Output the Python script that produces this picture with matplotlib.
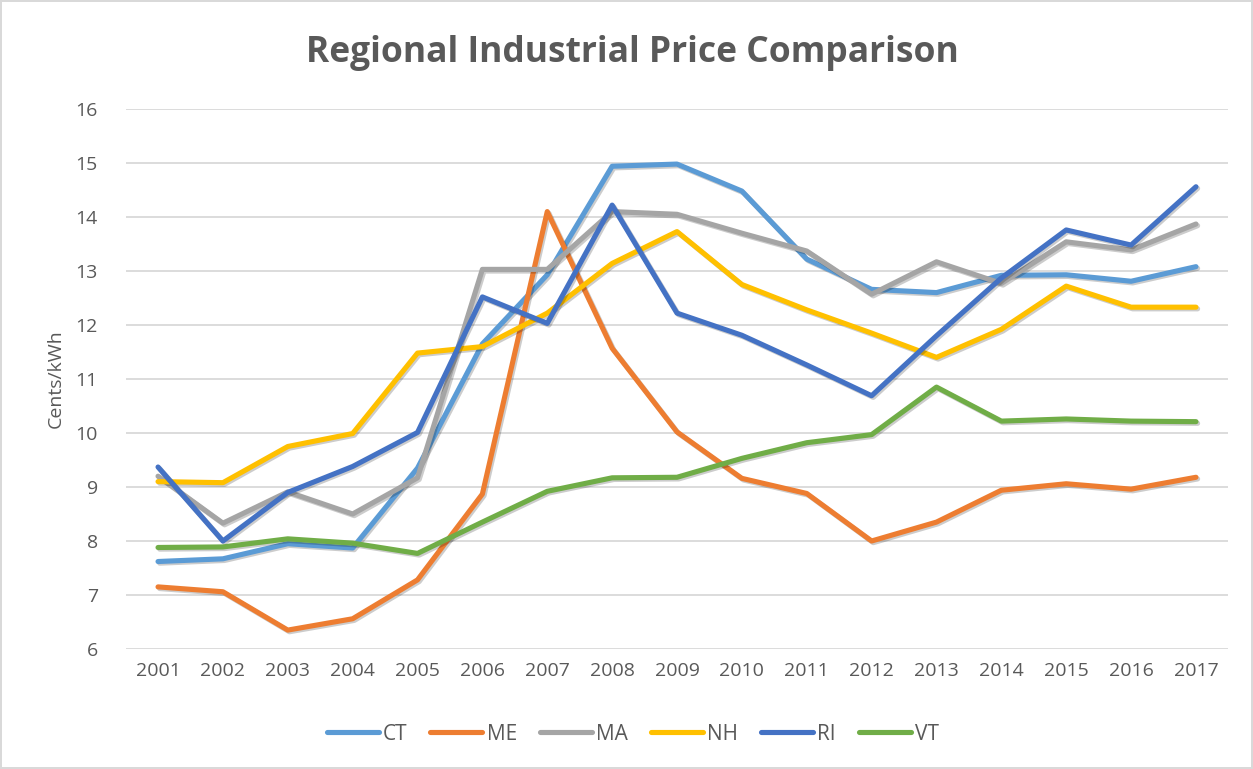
import matplotlib
matplotlib.use("Agg")
import matplotlib.pyplot as plt
import matplotlib.patheffects as pe

# Industrial electricity prices (cents/kWh) by New England state
years = list(range(2001, 2018))
ct = [7.62, 7.67, 7.95, 7.87, 9.35, 11.65, 12.93, 14.94, 14.98, 14.48, 13.22, 12.66, 12.6, 12.92, 12.93, 12.81, 13.08]
me = [7.15, 7.06, 6.35, 6.56, 7.28, 8.87, 14.1, 11.57, 10.02, 9.16, 8.88, 8.0, 8.35, 8.94, 9.06, 8.96, 9.18]
ma = [9.2, 8.33, 8.91, 8.5, 9.17, 13.03, 13.03, 14.1, 14.05, 13.7, 13.37, 12.57, 13.17, 12.77, 13.54, 13.39, 13.87]
nh = [9.1, 9.08, 9.75, 9.99, 11.48, 11.6, 12.22, 13.14, 13.73, 12.75, 12.28, 11.85, 11.4, 11.92, 12.72, 12.33, 12.33]
ri = [9.37, 8.0, 8.9, 9.38, 10.01, 12.52, 12.03, 14.22, 12.22, 11.81, 11.26, 10.69, 11.8, 12.87, 13.76, 13.48, 14.56]
vt = [7.88, 7.89, 8.04, 7.96, 7.77, 8.35, 8.92, 9.17, 9.18, 9.53, 9.82, 9.97, 10.85, 10.22, 10.26, 10.22, 10.21]

series = [("CT", ct, "#5B9BD5"), ("ME", me, "#ED7D31"), ("MA", ma, "#A5A5A5"),
          ("NH", nh, "#FFC000"), ("RI", ri, "#4472C4"), ("VT", vt, "#70AD47")]

plt.rcParams['font.family'] = ['Open Sans', 'DejaVu Sans']
text_color = '#595959'

fig = plt.figure(figsize=(12.53, 7.69), dpi=100)
fig.patch.set_edgecolor('#D9D9D9')
fig.patch.set_linewidth(1.5)
ax = fig.add_axes([125.6 / 1253, 1 - 649 / 769, (1228.4 - 125.6) / 1253, 540 / 769])

shadow = [pe.SimpleLineShadow(offset=(1.2, -1.2), shadow_color='k', alpha=0.2), pe.Normal()]
for name, vals, color in series:
    ax.plot(years, vals, color=color, linewidth=3.7, label=name,
            solid_capstyle='round', solid_joinstyle='round', path_effects=shadow)

ax.set_xlim(2000.5, 2017.5)
ax.set_ylim(6, 16)
ax.set_yticks(range(6, 17))
ax.set_xticks(years)
ax.grid(axis='y', color='#D9D9D9', linewidth=1.3)
ax.set_axisbelow(True)
for s in ax.spines.values():
    s.set_visible(False)
ax.tick_params(length=0, labelsize=14, colors=text_color, pad=9)
ax.tick_params(axis='y', pad=20)
ax.set_ylabel('Cents/kWh', fontsize=14, color=text_color, labelpad=8)

fig.text(0.505, 1 - 53 / 769, 'Regional Industrial Price Comparison', ha='center', va='center',
         fontsize=25.5, fontweight='bold', color=text_color)

leg = fig.legend(loc='center', bbox_to_anchor=(0.505, 1 - 734 / 769), ncol=6, frameon=False,
                 fontsize=15, handlelength=2.5, columnspacing=1.1, handletextpad=0.2)
for t in leg.get_texts():
    t.set_color(text_color)
for h in leg.get_lines():
    h.set_path_effects([pe.Normal()])

fig.savefig('out.png', dpi=100)
